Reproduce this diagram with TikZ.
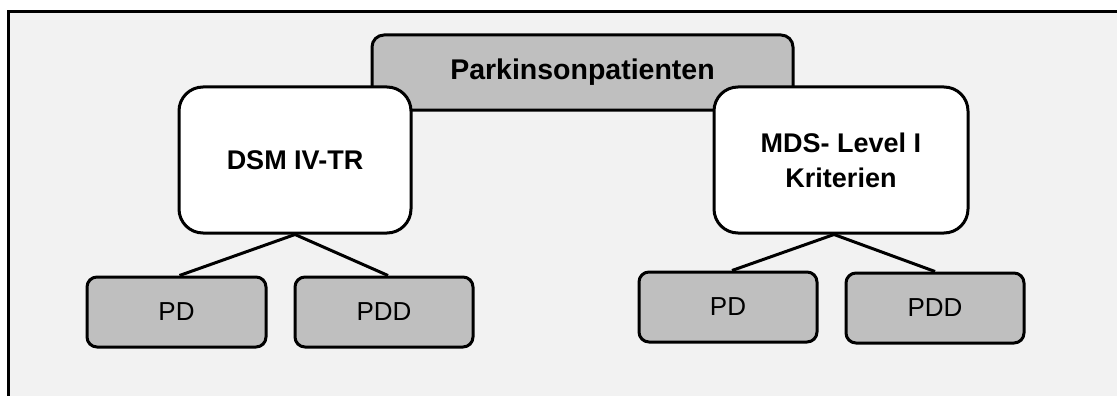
\documentclass[tikz,border=0pt]{standalone}
\usepackage{fontspec}
\setmainfont{Liberation Sans}
\definecolor{bgray}{HTML}{F2F2F2}
\definecolor{boxgray}{HTML}{BFBFBF}
\begin{document}
\begin{tikzpicture}[x=1pt,y=-1pt,
  base/.style={draw=black,line width=3pt,rectangle,inner sep=0pt,align=center},
  topbox/.style={base,fill=boxgray,rounded corners=12pt,minimum width=421pt,minimum height=75pt,font=\fontsize{28.5}{34}\selectfont\bfseries},
  critbox/.style={base,fill=white,rounded corners=24pt,minimum height=146pt,font=\fontsize{27}{35}\selectfont\bfseries},
  leafbox/.style={base,fill=boxgray,rounded corners=10pt,minimum width=178pt,minimum height=70pt,font=\fontsize{26}{30}\selectfont},
  conn/.style={line width=3pt}]
\useasboundingbox (0,0) rectangle (1117,396);
\fill[white] (0,0) rectangle (1117,396);
\draw[fill=bgray,line width=3pt] (8,12) rectangle (1130,410);
\node[topbox] (top) at (582.5,72.5) {Parkinsonpatienten};
\node[critbox,minimum width=232pt] (dsm) at (295,160) {DSM IV-TR};
\node[critbox,minimum width=254pt] (mds) at (841,160) {MDS- Level I\\Kriterien};
\node[leafbox,minimum width=179pt] (pd1) at (176.5,312) {PD};
\node[leafbox] (pdd1) at (384,312) {PDD};
\node[leafbox] (pd2) at (728,307) {PD};
\node[leafbox] (pdd2) at (935,308) {PDD};
\draw[conn] (dsm.south) -- ([xshift=3pt]pd1.north);
\draw[conn] (dsm.south) -- ([xshift=4pt]pdd1.north);
\draw[conn] ([xshift=-7pt]mds.south) -- ([xshift=4pt]pd2.north);
\draw[conn] ([xshift=-7pt]mds.south) -- (pdd2.north);
\end{tikzpicture}
\end{document}
